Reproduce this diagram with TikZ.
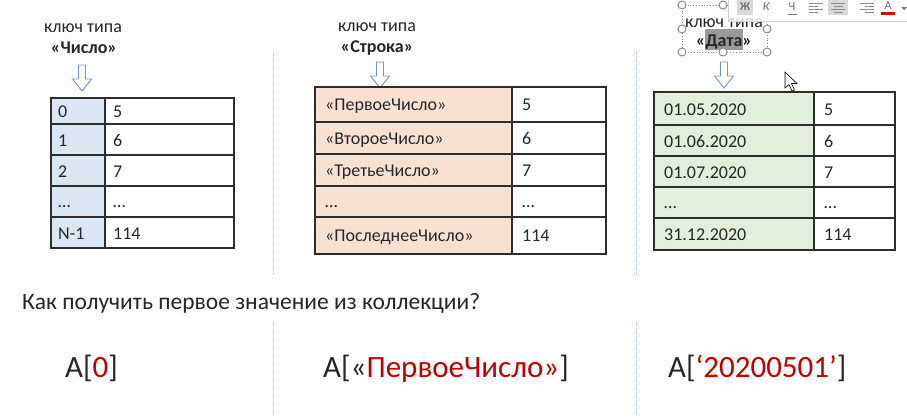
\documentclass[tikz,border=0pt]{standalone}
\usepackage{fontspec}
\setmainfont{Carlito}
\usetikzlibrary{arrows.meta,positioning}
\definecolor{keyblue}{RGB}{220,230,242}
\definecolor{keypeach}{RGB}{249,225,209}
\definecolor{keygreen}{RGB}{226,239,218}
\definecolor{gridgrey}{RGB}{45,45,45}
\definecolor{arrowblue}{RGB}{118,148,212}
\definecolor{sepblue}{RGB}{150,190,228}
\definecolor{accred}{RGB}{192,0,0}
\definecolor{textgrey}{RGB}{38,38,38}
\tikzset{
  tabline/.style={draw=gridgrey,line width=1.3pt},
  celltext/.style={anchor=base west,inner sep=0pt,font=\fontsize{18}{21}\selectfont,text=textgrey},
  keytext/.style={anchor=base,inner sep=0pt,font=\fontsize{18}{21}\selectfont,text=textgrey},
  keyarrow/.style={draw=arrowblue,fill=white,line width=.9pt,line join=miter},
  divider/.style={draw=sepblue,line width=.8pt,dash pattern=on 1pt off 1pt},
  accesstext/.style={anchor=base west,inner sep=0pt,font=\fontsize{31}{37}\selectfont,text=textgrey},
  selhandle/.style={draw=black!45,fill=white,line width=1pt},
  toolglyph/.style={inner sep=0pt,font=\fontsize{12}{14}\selectfont,text=black!55},
}
\begin{document}
\begin{tikzpicture}[x=1pt,y=-1pt,line cap=butt]
\useasboundingbox (0,0) rectangle (907,416);
\def\KeyArrow{(-3.5,0) -- (3.5,0) -- (3.5,14) -- (9.5,14) -- (0,26) -- (-9.5,14) -- (-3.5,14) -- cycle}
% Разделители колонок.
\draw[divider] (273,53) -- (273,275) (273,322) -- (273,416);
\draw[divider] (636,52) -- (636,275) (636,322) -- (636,416);
% Ключ типа «Число».
\node[keytext] (keyA) at (83,32) {ключ типа};
\node[keytext,font=\fontsize{18}{21}\selectfont\bfseries] (typeA) at (84,53) {«Число»};
\draw[keyarrow,shift={(82,65)}] \KeyArrow;
\fill[keyblue] (51,98) rectangle (105,248);
\draw[tabline] (51,98) rectangle (234,248) (105,98) -- (105,248);
\foreach \y in {124,155,186,217} \draw[tabline] (51,\y) -- (234,\y);
\foreach \i/\k/\v/\y in {1/0/5/117,2/1/6/146,3/2/7/177,4/…/…/207,5/N-1/114/239}{
  \node[celltext] (numK\i) at (58,\y) {\k};
  \node[celltext] (numV\i) at (113,\y) {\v};
}
% Ключ типа «Строка».
\node[keytext] (keyB) at (377,31) {ключ типа};
\node[keytext,font=\fontsize{18}{21}\selectfont\bfseries] (typeB) at (377,52) {«Строка»};
\draw[keyarrow,shift={(380,62)}] \KeyArrow;
\fill[keypeach] (315,87) rectangle (512,254);
\draw[tabline] (315,87) rectangle (606,254) (512,87) -- (512,254);
\foreach \y in {122,154,186,217} \draw[tabline] (315,\y) -- (606,\y);
\foreach \i/\k/\v/\y in {1/«ПервоеЧисло»/5/110,2/«ВтороеЧисло»/6/144,3/«ТретьеЧисло»/7/176,4/…/…/207,5/«ПоследнееЧисло»/114/241}{
  \node[celltext] (strK\i) at (325,\y) {\k};
  \node[celltext] (strV\i) at (522,\y) {\v};
}
% Ключ типа «Дата» (выделенная надпись).
\fill[black!40] (705,29) rectangle (743,50);
\node[keytext] (keyC) at (724,27) {ключ типа};
\node[keytext,font=\fontsize{18}{21}\selectfont\bfseries] (typeC) at (724,46) {«Дата»};
\draw[black!45,dotted,line width=.8pt] (682,5) rectangle (767,52);
\foreach \hx/\hy in {682/5,723/5,767/5,682/29,767/29,682/52,723/52,767/52}
  \draw[selhandle] (\hx,\hy) circle (4);
\draw[keyarrow,shift={(724,62)}] \KeyArrow;
\fill[keygreen] (654,92) rectangle (814,250);
\draw[tabline] (654,92) rectangle (895,250) (814,92) -- (814,250);
\foreach \y in {125,156,187,218} \draw[tabline] (654,\y) -- (895,\y);
\foreach \i/\k/\v/\y in {1/01.05.2020/5/115,2/01.06.2020/6/147,3/01.07.2020/7/178,4/…/…/208,5/31.12.2020/114/240}{
  \node[celltext] (dateK\i) at (664,\y) {\k};
  \node[celltext] (dateV\i) at (824,\y) {\v};
}
% Панель форматирования и курсор.
\fill[white,opacity=.8] (728,-2) rectangle (909,21);
\draw[black!18,line width=.8pt] (728,-2) -- (728,21) -- (909,21);
\fill[black!15] (737,0) rectangle (753,15);
\fill[black!15] (828,0) rectangle (848,15);
\node[toolglyph,font=\fontsize{12}{14}\selectfont\bfseries] (tbBold) at (745,7) {Ж};
\node[toolglyph,font=\fontsize{12}{14}\selectfont\itshape] (tbItal) at (766,7) {К};
\node[toolglyph] (tbUnder) at (792,6.5) {Ч};
\draw[black!55,line width=.8pt] (788,14) -- (797,14);
\foreach \ly/\lw in {3/14,6/9,9/14,12/9}{
  \draw[black!45,line width=.9pt] (809,\ly) -- ++(\lw,0);
  \draw[black!45,line width=.9pt] (838-\lw/2,\ly) -- ++(\lw,0);
  \draw[black!45,line width=.9pt] (874-\lw,\ly) -- ++(\lw,0);
}
\node[toolglyph] (tbColor) at (888,6) {A};
\fill[red!85!black] (881,12) rectangle (895,15);
\fill[black!55] (901,7) -- (907,7) -- (904,10) -- cycle;
\draw[black,fill=white,line width=.6pt,line join=miter] (785,72) -- (785,88) -- (789,84.5) -- (792,91) -- (794.5,90) -- (791.5,83.5) -- (797,83.5) -- cycle;
% Вопрос и способы доступа к первому элементу.
\node[anchor=base west,inner sep=0pt,font=\fontsize{23.5}{28}\selectfont,text=textgrey] (question) at (22,309) {Как получить первое значение из коллекции?};
\node[accesstext] (accA) at (65,377) {A[\textcolor{accred}{0}]};
\node[accesstext] (accB) at (323,377) {A[«\textcolor{accred}{ПервоеЧисло»}]};
\node[accesstext] (accC) at (668,377) {A[\textcolor{accred}{‘20200501’}]};
\end{tikzpicture}
\end{document}
